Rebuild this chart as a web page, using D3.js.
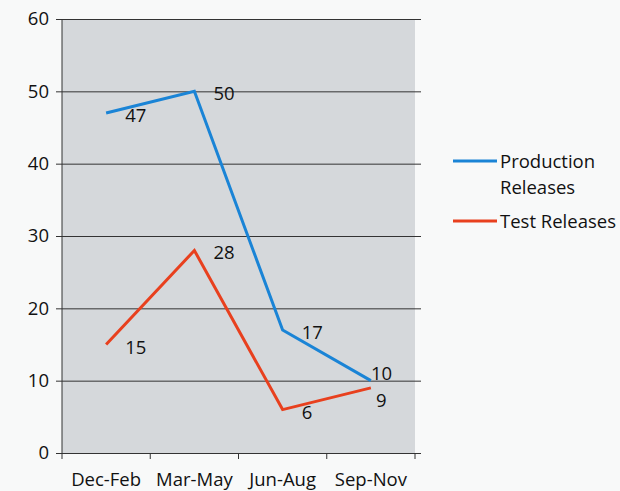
<!DOCTYPE html>
<html>
<head>
<meta charset="utf-8">
<script src="https://cdn.jsdelivr.net/npm/d3@7"></script>
<style>
  body { margin: 0; background: #f8f9f9; }
  text { font-family: "Open Sans", sans-serif; fill: #111; }
</style>
</head>
<body>
<div id="chart"></div>
<script>
// Data
const seasons = ["Dec-Feb", "Mar-May", "Jun-Aug", "Sep-Nov"];
const production = [47, 50, 17, 10];
const tests = [15, 28, 6, 9];
const yTicks = [0, 10, 20, 30, 40, 50, 60];

const series = [
    { name: "Production Releases", lines: ["Production", "Releases"], values: production, color: "#1a84d6" },
    { name: "Test Releases", lines: ["Test Releases"], values: tests, color: "#e8401e" }
];

const fs = 18.5;

const margin = { top: 19, right: 205, bottom: 38, left: 62 },
    width = 620 - margin.left - margin.right,
    height = 491 - margin.top - margin.bottom;

const svg = d3.select("#chart")
    .append("svg")
    .attr("width", 620)
    .attr("height", 491);

const g = svg.append("g")
    .attr("transform", "translate(" + margin.left + "," + margin.top + ")");

// Scales
const x = d3.scaleBand().domain(seasons).range([0, width]);
const y = d3.scaleLinear().domain([0, 60]).range([height, 0]);
const cx = d => x(d) + x.bandwidth() / 2;

// Plot background
g.append("rect")
    .attr("width", width)
    .attr("height", height)
    .attr("fill", "#d5d8db");

// Gridlines + y axis
g.append("g")
    .call(d3.axisLeft(y).tickValues(yTicks).tickSize(-width - 6).tickPadding(7))
    .attr("transform", "translate(-6,0)")
    .call(a => a.select(".domain").remove())
    .call(a => a.selectAll(".tick line").attr("transform", "translate(6,0)").attr("x1", -6).attr("stroke", "#333").attr("stroke-width", 1))
    .call(a => a.selectAll(".tick text").attr("font-size", fs).attr("font-family", "Open Sans").attr("fill", "#111"));

g.append("line")
    .attr("x1", 0).attr("x2", 0).attr("y1", 0).attr("y2", height)
    .attr("stroke", "#333");

// X axis
const xAxis = g.append("g")
    .attr("transform", "translate(0," + height + ")")
    .call(d3.axisBottom(x).tickSize(0).tickPadding(20));
xAxis.select(".domain").attr("stroke", "#333");
xAxis.selectAll(".tick text").attr("font-size", fs).attr("font-family", "Open Sans").attr("fill", "#111");
xAxis.selectAll(".bound")
    .data(seasons.concat([null]))
    .enter().append("line")
    .attr("x1", (d, i) => i * x.bandwidth())
    .attr("x2", (d, i) => i * x.bandwidth())
    .attr("y1", 0).attr("y2", 6)
    .attr("stroke", "#333");

// Lines
const line = d3.line()
    .x((d, i) => cx(seasons[i]))
    .y(d => y(d));

series.forEach(s => {
    g.append("path")
        .datum(s.values)
        .attr("fill", "none")
        .attr("stroke", s.color)
        .attr("stroke-width", 3)
        .attr("d", line);
});

// Data labels
series.forEach((s, si) => {
    g.selectAll(".lbl" + si)
        .data(s.values)
        .enter().append("text")
        .attr("x", (d, i) => cx(seasons[i]) + (i === seasons.length - 1 ? (si === 0 ? 0 : 5) : 19))
        .attr("y", (d, i) => y(d) + (i === seasons.length - 1 ? (si === 0 ? -1 : 19) : 9))
        .attr("font-size", fs)
        .text(d => d);
});

// Legend
const legend = svg.append("g").attr("transform", "translate(453,161)");
series.forEach((s, i) => {
    const row = legend.append("g").attr("transform", "translate(0," + (i === 0 ? 0 : 60) + ")");
    row.append("line")
        .attr("x1", 0).attr("x2", 44)
        .attr("stroke", s.color).attr("stroke-width", 3);
    s.lines.forEach((t, j) => {
        row.append("text")
            .attr("x", 47)
            .attr("y", 7 + j * 26)
            .attr("font-size", fs)
            .text(t);
    });
});
</script>
</body>
</html>
